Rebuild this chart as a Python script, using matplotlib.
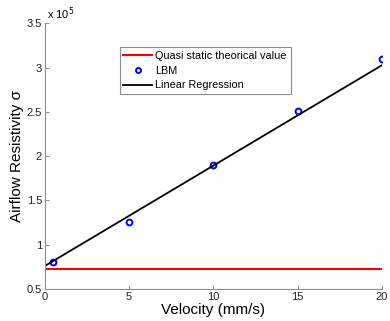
import numpy as np
import matplotlib
matplotlib.use('Agg')
import matplotlib.pyplot as plt
from matplotlib.ticker import FuncFormatter

plt.rcParams['font.family'] = ['Liberation Sans', 'DejaVu Sans']

# LBM simulation results
velocity = [0.5, 5, 10, 15, 20]
resistivity = [0.80e5, 1.26e5, 1.895e5, 2.505e5, 3.10e5]

# regression line end points (as drawn)
reg_x = [0, 20]
reg_y = [0.76e5, 3.025e5]

# quasi static theoretical value
quasi_x = [0, 20]
quasi_y = [0.73e5, 0.73e5]

fig = plt.figure(figsize=(3.9, 3.21), dpi=100)
ax = fig.add_axes([0.115, 0.0997, 0.864, 0.828])

ax.plot(quasi_x, quasi_y, color='red', lw=1.5, label='Quasi static theorical value')
ax.plot(velocity, resistivity, 'o', mfc='none', mec='blue', mew=1.4, ms=4.2, label='LBM')
ax.plot(reg_x, reg_y, color='black', lw=1.3, label='Linear Regression')

ax.set_xlim(0, 20)
ax.set_ylim(0.5e5, 3.5e5)
ax.set_xticks([0, 5, 10, 15, 20])
ax.set_yticks(np.arange(0.5e5, 3.51e5, 0.5e5))
ax.yaxis.set_major_formatter(FuncFormatter(lambda v, p: '%g' % (v / 1e5)))
ax.xaxis.set_major_formatter(FuncFormatter(lambda v, p: '%g' % v))

for s in ['top', 'right']:
    ax.spines[s].set_visible(False)
for s in ['left', 'bottom']:
    ax.spines[s].set_color('#8c8c8c')
    ax.spines[s].set_linewidth(0.8)
ax.tick_params(direction='in', length=3, width=0.7, color='#8c8c8c',
               labelsize=8, labelcolor='#222222', pad=2)

ax.text(0.005, 1.005, 'x 10$^5$', transform=ax.transAxes, fontsize=8, va='bottom', ha='left')

ax.set_xlabel('Velocity (mm/s)', fontsize=11, labelpad=1)
ax.set_ylabel('Airflow Resistivity σ', fontsize=11, labelpad=2)

leg = ax.legend(loc='upper left', bbox_to_anchor=(0.222, 0.911), fontsize=7.8,
                frameon=True, fancybox=False, handlelength=2.6, borderpad=0.35,
                labelspacing=0.45, handletextpad=0.35, borderaxespad=0,
                markerscale=0.85)
leg.get_frame().set_edgecolor('#707070')
leg.get_frame().set_linewidth(0.8)

fig.savefig('out.png', dpi=100)
